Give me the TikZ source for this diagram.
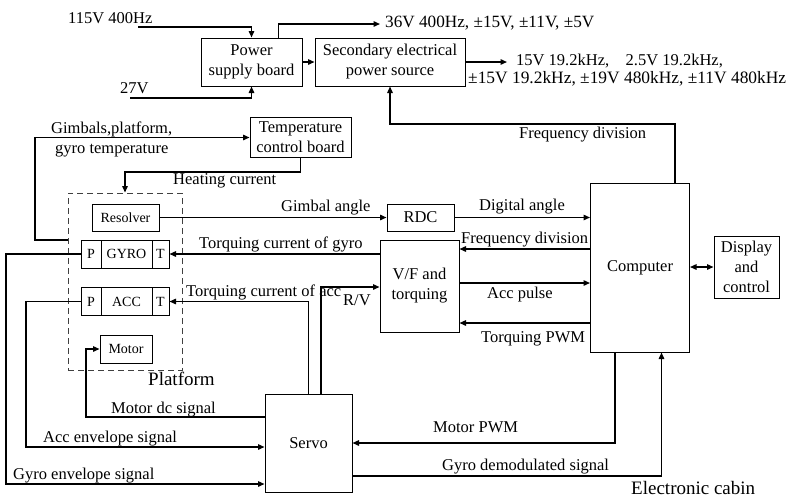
\documentclass[tikz,border=0pt]{standalone}
\usepackage{fontspec}
\setmainfont{Liberation Serif}
\usetikzlibrary{arrows.meta}
\newcommand\myfs[1]{\fontsize{#1}{20}\selectfont}
\begin{document}
\begin{tikzpicture}[x=1pt,y=-1pt,
  box/.style={draw, line width=1pt, inner sep=0pt, align=center, font=\myfs{16.5}},
  cell/.style={draw, line width=1pt, inner sep=0pt, minimum height=28, font=\myfs{14}},
  lbl/.style={anchor=base west, inner sep=0pt, font=\myfs{16.5}},
  ln/.style={line width=1.4pt},
  arr/.style={line width=1.4pt, -{Triangle[length=6.5pt,width=5.5pt]}},
  darr/.style={line width=1.4pt, {Triangle[length=6.5pt,width=5.5pt]}-{Triangle[length=6.5pt,width=5.5pt]}}]
\useasboundingbox (0,0) rectangle (792,499);
% boxes
\node[box, minimum width=101, minimum height=48] (psb) at (251.5,62) {Power\\supply board};
\node[box, minimum width=150, minimum height=48] (sec) at (390,62) {Secondary electrical\\power source};
\node[box, minimum width=101, minimum height=40] (tcb) at (300.5,137.5) {Temperature\\control board};
\node[draw=black!75, dash pattern=on 6pt off 4pt, line width=1pt, minimum width=114, minimum height=177, inner sep=0pt] (plat) at (125,281.5) {};
\node[box, font=\myfs{14}, minimum width=67, minimum height=27] (res) at (125.5,217.5) {Resolver};
\node[cell, minimum width=20] (gP) at (91,254) {P};
\node[cell, minimum width=51] (gG) at (126.5,254) {GYRO};
\node[cell, minimum width=17] (gT) at (160.5,254) {T};
\node[cell, minimum width=20] (aP) at (91,301.5) {P};
\node[cell, minimum width=51] (aA) at (126.5,301.5) {ACC};
\node[cell, minimum width=17] (aT) at (160.5,301.5) {T};
\node[box, font=\myfs{14}, minimum width=52, minimum height=28] (motor) at (126,349) {Motor};
\node[box, minimum width=67, minimum height=27] (rdc) at (420.5,217.5) {RDC};
\node[box, minimum width=79, minimum height=92] (vf) at (419.5,286) {V/F and\\torquing};
\node[box, minimum width=99, minimum height=169] (comp) at (640,267.5) {Computer};
\node[box, minimum width=65, minimum height=62] (disp) at (746.5,267) {Display\\and\\control};
\node[box, minimum width=87, minimum height=98] (servo) at (308.5,443) {Servo};
% free ends
\coordinate (i115) at (138,27);
\coordinate (i27) at (130,98);
\coordinate (o36) at (380,24);
\coordinate (o15) at (507,62);
\coordinate (fd) at (390,124);
\coordinate (pl) at (68,240);
\coordinate (gk) at (35,240);
\coordinate (hc) at (125,172);
\coordinate (md) at (86,417);
\coordinate (ae) at (26,447);
\coordinate (ge) at (6,484);
% connectors
\draw[arr] (i115) -| (psb.north);
\draw[arr] (i27) -| (psb.south);
\draw[arr] ([xshift=-24pt]psb.north east) |- (o36);
\draw[arr] (psb.east) -- (sec.west);
\draw[arr] (sec.east) -- (o15);
\draw[arr] ([xshift=-15pt]comp.north east) |- (fd) -- (sec.south);
\draw[arr] (pl) -- (gk) |- (tcb.west);
\draw[arr] (tcb.south) |- (hc) -- (plat.north);
\draw[arr] (res.east) -- (rdc.west);
\draw[arr] (rdc.east) -- (rdc.east -| comp.west);
\draw[arr] (vf.west |- gT.east) -- (gT.east);
\draw[arr] (comp.west |- 0,249) -- (vf.east |- 0,249);
\draw[arr] (vf.east |- 0,283) -- (comp.west |- 0,283);
\draw[arr] (comp.west |- 0,323) -- (vf.east |- 0,323);
\draw[arr] ([xshift=12.5pt]servo.north) |- (vf.west |- 0,287);
\draw[arr] (servo.north) |- (aT.east);
\draw[arr] (servo.west |- md) -- (md) |- (motor.west);
\draw[arr] (aP.west) -| (ae) -- (servo.west |- ae);
\draw[arr] (gP.west) -| (ge) -- (servo.west |- ge);
\draw[arr] ([xshift=-25pt]comp.south) |- (servo.east);
\draw[arr] (servo.east |- 0,476) -| ([xshift=21.5pt]comp.south);
\draw[darr] (comp.east |- disp.west) -- (disp.west);
% labels
\node[lbl] (t1) at (68,23) {115V 400Hz};
\node[lbl] (t2) at (120,93) {27V};
\node[lbl, font=\myfs{17.2}] (t3) at (385,27) {36V 400Hz, ±15V, ±11V, ±5V};
\node[lbl] (t4) at (516,65) {15V 19.2kHz,\ \ \ \ 2.5V 19.2kHz,};
\node[lbl, font=\myfs{17.4}] (t5) at (468,83) {±15V 19.2kHz, ±19V 480kHz, ±11V 480kHz};
\node[lbl] (t6) at (519,138) {Frequency division};
\node[lbl] (t7) at (51,133) {Gimbals,platform,};
\node[lbl] (t8) at (55,153) {gyro temperature};
\node[lbl] (t9) at (173,184) {Heating current};
\node[lbl] (t10) at (281,211) {Gimbal angle};
\node[lbl] (t11) at (479,210) {Digital angle};
\node[lbl] (t12) at (199,248) {Torquing current of gyro};
\node[lbl] (t13) at (461,243) {Frequency division};
\node[lbl] (t14) at (186,296) {Torquing current of acc};
\node[lbl] (t15) at (343,305) {R/V};
\node[lbl] (t16) at (487,298) {Acc pulse};
\node[lbl] (t17) at (481,342) {Torquing PWM};
\node[lbl, font=\myfs{19}] (t18) at (148,385) {Platform};
\node[lbl] (t19) at (111,413) {Motor dc signal};
\node[lbl] (t20) at (43,442) {Acc envelope signal};
\node[lbl] (t21) at (13,479) {Gyro envelope signal};
\node[lbl] (t22) at (433,432) {Motor PWM};
\node[lbl] (t23) at (442,470) {Gyro demodulated signal};
\node[lbl, font=\myfs{19}] (t24) at (631,494) {Electronic cabin};
\end{tikzpicture}
\end{document}
